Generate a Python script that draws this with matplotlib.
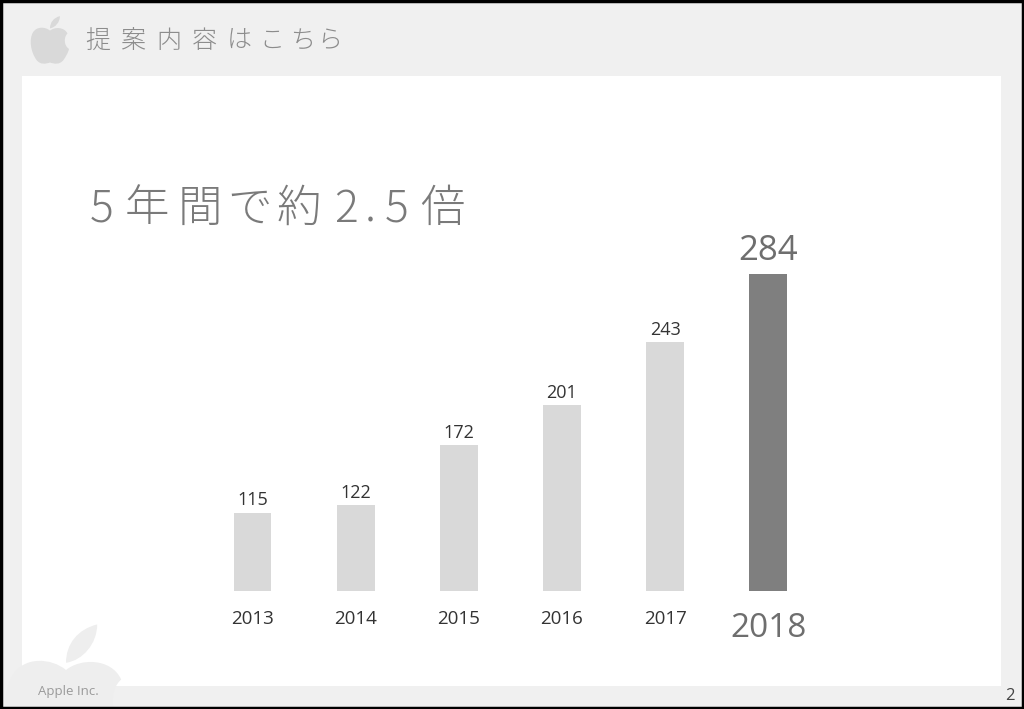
import numpy as np
import matplotlib
matplotlib.use('Agg')
import matplotlib.pyplot as plt
from matplotlib.path import Path
from matplotlib.patches import PathPatch, Rectangle

years = ['2013', '2014', '2015', '2016', '2017', '2018']
values = [115, 122, 172, 201, 243, 284]
header = '提案内容はこちら'
title = '5年間で約2.5倍'

W, H = 1024, 709
fig = plt.figure(figsize=(W / 100, H / 100), dpi=100)
fig.patch.set_facecolor('#f0f0f0')

jp = ['Noto Sans CJK JP', 'DejaVu Sans']
num = ['Open Sans', 'DejaVu Sans']


def fx(px):
    return px / W


def fy(py):
    return 1 - py / H


# white panel + black frame
fig.add_artist(Rectangle((fx(22), fy(686)), fx(1001 - 22), (686 - 76) / H,
                         transform=fig.transFigure, facecolor='white', edgecolor='none', zorder=0))
fig.add_artist(Rectangle((0.001, 0.0015), 0.998, 0.997, transform=fig.transFigure,
                         facecolor='none', edgecolor='black', linewidth=2.5, zorder=10))


def apple_path():
    M, C, Z = Path.MOVETO, Path.CURVE4, Path.CLOSEPOLY
    body = [(0, 0.30),
            (-0.12, 0.40), (-0.35, 0.42), (-0.45, 0.25),
            (-0.55, 0.08), (-0.52, -0.25), (-0.35, -0.48),
            (-0.25, -0.60), (-0.12, -0.58), (0, -0.54),
            (0.12, -0.58), (0.25, -0.60), (0.35, -0.48),
            (0.42, -0.38), (0.48, -0.28), (0.50, -0.18),
            (0.36, -0.10), (0.36, 0.14), (0.46, 0.22),
            (0.38, 0.40), (0.12, 0.40), (0, 0.30),
            (0, 0.30)]
    codes = [M] + [C] * 21 + [Z]
    leaf = [(0.0, 0.36), (0.0, 0.52), (0.10, 0.64), (0.26, 0.68),
            (0.26, 0.52), (0.14, 0.38), (0.0, 0.36), (0.0, 0.36)]
    lcodes = [M, C, C, C, C, C, C, Z]
    return Path(body + leaf, codes + lcodes)


def draw_apple(cx, cy, size, color, zorder=1):
    a = fig.add_axes([fx(cx - size), fy(cy + size), 2 * size / W, 2 * size / H], zorder=zorder)
    a.set_xlim(-1, 1)
    a.set_ylim(-1, 1)
    a.axis('off')
    a.add_patch(PathPatch(apple_path(), facecolor=color, edgecolor='none'))
    return a


draw_apple(50, 42, 38, '#d9d9d9')
draw_apple(66, 706, 120, '#eeeeee', zorder=0.5)

# header
hx = [98, 133.5, 169, 204, 239, 272, 303, 330]
for ch, x in zip(header, hx):
    fig.text(fx(x), fy(41), ch, family=jp, fontsize=18, color='#8c8c8c',
             ha='center', va='center', fontweight='light')

# title
tx = [102, 147, 200, 250, 299, 346, 370, 397, 442]
for ch, x in zip(title, tx):
    fig.text(fx(x), fy(209), ch, family=jp, fontsize=32, color='#7a7a7a',
             ha='center', va='center', fontweight='light')

# bars
left, bottom, top = 200.9, 591, 274
ax = fig.add_axes([fx(left), fy(bottom), 619 / W, (bottom - top) / H], zorder=2)
ax.set_yscale('function', functions=(lambda y: np.power(np.clip(y, 0, None), 1.55),
                                     lambda y: np.power(np.clip(y, 0, None), 1 / 1.55)))
x = np.arange(len(years))
colors = ['#d9d9d9'] * 5 + ['#7f7f7f']
ax.bar(x, values, width=0.368, color=colors)
ax.set_xlim(-0.5, 5.5)
ax.set_ylim(0, 284)
ax.axis('off')

for i, (yr, v) in enumerate(zip(years, values)):
    big = i == len(years) - 1
    ax.annotate(str(v), (i, v), xytext=(0, 4 if big else 2.5), textcoords='offset points',
                ha='center', va='bottom', family=num, fontsize=25 if big else 13,
                color='#6e6e6e' if big else '#333333')
    ax.annotate(yr, (i, 0), xytext=(0, -15 if big else -13.5), textcoords='offset points',
                ha='center', va='top', family=num, fontsize=24 if big else 13.5,
                color='#6e6e6e' if big else '#333333')

fig.text(fx(38), fy(692), 'Apple Inc.', family=num, fontsize=9.5, color='#9a9a9a',
         ha='left', va='center')
fig.text(fx(1010), fy(696), '2', family=num, fontsize=12, color='#444444',
         ha='center', va='center')

fig.savefig('out.png', dpi=100, facecolor=fig.get_facecolor())
